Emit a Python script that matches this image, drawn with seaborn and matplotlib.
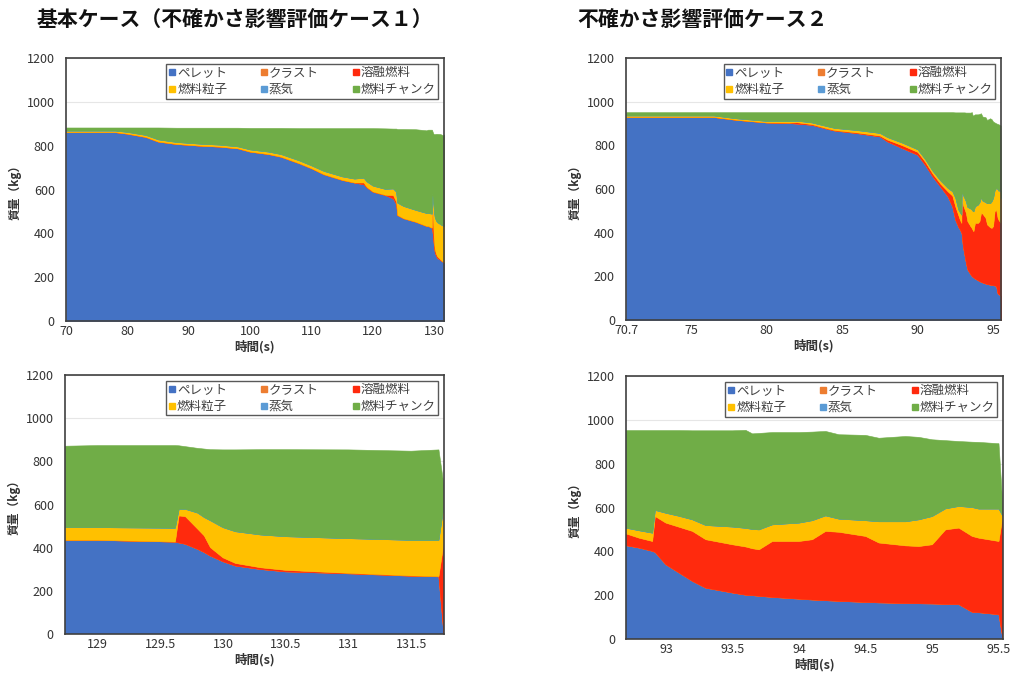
import numpy as np
import pandas as pd
import matplotlib
matplotlib.use("Agg")
import matplotlib.pyplot as plt
from matplotlib.lines import Line2D
import seaborn as sns

# ---- データ（グラフから読み取った値, kg） ----
names = ["ペレット", "クラスト", "溶融燃料", "燃料粒子", "蒸気", "燃料チャンク"]
colors = ["#4472C4", "#ED7D31", "#FF2A0D", "#FFC000", "#5B9BD5", "#70AD47"]

# 基本ケース（ケース１）
t1 = [70, 78, 80, 83, 85, 88, 92, 95, 98, 100, 103, 105, 108, 110, 112, 115,
      117, 118.5, 119, 120, 122, 123.3, 123.8, 124, 125, 127, 128.74, 129,
      129.62, 129.65, 129.7, 129.8, 129.85, 129.9, 130, 130.1, 130.3, 130.5,
      131, 131.5, 131.72, 131.76]
pellet1 = [862, 862, 855, 840, 819, 808, 800, 796, 788, 773, 762, 750, 720, 697,
           670, 644, 632, 624, 610, 590, 575, 560, 535, 484, 469, 453, 434, 434,
           426, 422, 416, 392, 378, 361, 335, 315, 299, 288, 279, 268, 265, 0]
molten1 = [0, 0, 0, 0, 0, 0, 0, 0, 0, 0, 0, 0, 0, 0, 0, 0, 0, 8, 2, 1, 1, 15, 10,
           0, 0, 0, 0, 0, 0, 125, 128, 93, 77, 39, 18, 12, 8, 7, 2, 1, 1, 420]
particle1 = [7, 7, 8, 9, 10, 9, 9, 9, 9, 10, 11, 12, 13, 13, 15, 16, 18, 22, 25,
             27, 27, 30, 45, 56, 56, 54, 59, 59, 64, 31, 34, 75, 85, 125, 140,
             147, 152, 156, 161, 165, 168, 170]
chunk1 = [14, 14, 20, 34, 54, 65, 73, 77, 85, 98, 108, 119, 147, 170, 195, 220,
          230, 226, 243, 262, 276, 273, 288, 336, 351, 368, 377, 380, 383, 294,
          290, 300, 317, 329, 360, 379, 395, 403, 411, 413, 419, 100]

# 不確かさ影響評価ケース２
t2 = [70.7, 76.5, 78, 80, 81.5, 82, 83, 84, 84.5, 86, 87.5, 88, 89, 90, 90.5,
      91, 91.5, 92, 92.3, 92.5, 92.7, 92.8, 92.9, 92.92, 93.0, 93.1, 93.2, 93.3,
      93.5, 93.6, 93.65, 93.7, 93.8, 94.0, 94.1, 94.2, 94.3, 94.5, 94.6, 94.8,
      94.9, 95.0, 95.1, 95.2, 95.3, 95.35, 95.5, 95.53]
pellet2 = [930, 930, 917, 905, 902, 900, 894, 876, 868, 856, 841, 818, 787, 757,
           711, 657, 612, 566, 520, 459, 426, 415, 400, 395, 339, 301, 263, 232,
           210, 200, 198, 195, 190, 182, 178, 175, 172, 167, 165, 162, 161, 160,
           158, 157, 122, 120, 111, 0]
molten2 = [0, 0, 0, 0, 2, 6, 3, 2, 2, 3, 4, 8, 13, 13, 14, 13, 13, 23, 50, 61,
           54, 45, 45, 164, 190, 209, 228, 221, 220, 220, 214, 212, 255, 263,
           275, 316, 315, 301, 273, 263, 261, 270, 340, 349, 346, 340, 334, 560]
particle2 = [7, 7, 7, 7, 7, 7, 8, 10, 10, 11, 12, 12, 12, 12, 12, 13, 15, 16, 20,
             40, 26, 34, 38, 28, 45, 50, 53, 65, 81, 85, 88, 91, 76, 84, 87, 71,
             60, 72, 97, 110, 122, 129, 96, 99, 132, 133, 148, 0]
chunk2 = [15, 15, 28, 40, 41, 39, 47, 64, 72, 82, 95, 114, 140, 170, 215, 269,
          312, 347, 362, 391, 445, 457, 468, 364, 377, 391, 406, 432, 439, 447,
          436, 440, 421, 413, 404, 385, 385, 389, 381, 389, 376, 350, 311, 296,
          298, 304, 298, 40]

case1 = pd.DataFrame({"t": t1, "ペレット": pellet1, "クラスト": 0,
                      "溶融燃料": molten1, "燃料粒子": particle1, "蒸気": 0,
                      "燃料チャンク": chunk1})
case2 = pd.DataFrame({"t": t2, "ペレット": pellet2, "クラスト": 0,
                      "溶融燃料": molten2, "燃料粒子": particle2, "蒸気": 0,
                      "燃料チャンク": chunk2})

# ---- スタイル ----
sns.set_theme(style="white")
plt.rcParams["font.family"] = ["Noto Sans CJK JP", "DejaVu Sans"]
txt = "#333333"

fig = plt.figure(figsize=(10.12, 6.73), dpi=100)

panels = [
    (case1, [0.0652, 0.5230, 0.3735, 0.3908], (70, 131.6), [70, 80, 90, 100, 110, 120, 130]),
    (case2, [0.6186, 0.5245, 0.3706, 0.3893], (70.7, 95.53), [70.7, 75, 80, 85, 90, 95]),
    (case1, [0.0642, 0.0579, 0.3745, 0.3849], (128.74, 131.76), [129, 129.5, 130, 130.5, 131, 131.5]),
    (case2, [0.6186, 0.0505, 0.3725, 0.3908], (92.70, 95.53), [93, 93.5, 94, 94.5, 95, 95.5]),
]


def draw_panel(df, rect, xlim, xticks):
    ax = fig.add_axes(rect)
    ax.stackplot(df["t"], *[df[n] for n in names], colors=colors,
                 linewidth=0.4, edgecolor="face")
    ax.set_xlim(*xlim)
    ax.set_ylim(0, 1200)
    ax.set_yticks(range(0, 1201, 200))
    ax.set_xticks(xticks)
    ax.set_xticklabels([f"{v:g}" for v in xticks])
    ax.yaxis.grid(True, color="#e6e6e6", linewidth=0.8)
    ax.xaxis.set_zorder(3)
    ax.tick_params(axis="x", direction="in", length=5, width=1.3,
                   colors="#1f3864", labelcolor=txt, labelsize=9, pad=3)
    ax.tick_params(axis="y", length=0, labelcolor=txt, labelsize=9, pad=8)
    for s in ax.spines.values():
        s.set_color("#404040")
        s.set_linewidth(1.2)
    ax.set_xlabel("時間(s)", fontsize=9, fontweight="bold", color=txt, labelpad=1)
    ax.set_ylabel("質量（kg）", fontsize=8.5, fontweight="bold", color=txt, labelpad=4)

    order = [0, 3, 1, 4, 2, 5]
    handles = [Line2D([], [], marker="s", linestyle="none", markersize=4.5,
                      color=colors[i]) for i in order]
    labels = [names[i] for i in order]
    leg = ax.legend(handles, labels, ncol=3, loc="upper right",
                    bbox_to_anchor=(0.985, 0.978), borderaxespad=0,
                    fontsize=9, frameon=True, fancybox=False, framealpha=1,
                    edgecolor="#595959", handlelength=0.5, handletextpad=0.15,
                    columnspacing=2.7, labelspacing=0.3, borderpad=0.2)
    leg.get_frame().set_linewidth(1.0)
    for t in leg.get_texts():
        t.set_color("#404040")
    return ax


for df, rect, xlim, xticks in panels:
    draw_panel(df, rect, xlim, xticks)

fig.text(37 / 1012, 1 - 20 / 673, "基本ケース（不確かさ影響評価ケース１）",
         fontsize=15, fontweight="bold", va="center", ha="left", color="#111111")
fig.text(577 / 1012, 1 - 20 / 673, "不確かさ影響評価ケース２",
         fontsize=15, fontweight="bold", va="center", ha="left", color="#111111")

fig.savefig("out.png", dpi=100)
